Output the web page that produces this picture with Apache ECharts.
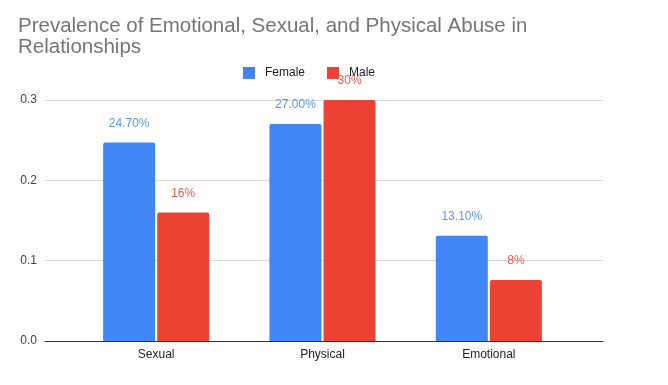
<!DOCTYPE html>
<html><head><meta charset="utf-8">
<script src="https://cdn.jsdelivr.net/npm/echarts@6/dist/echarts.min.js"></script>
<style>html,body{margin:0;padding:0;background:#fff}#c{width:668px;height:385px}</style>
</head><body><div id="c"></div>
<script>
const categories = ['Sexual', 'Physical', 'Emotional'];
const female = [0.247, 0.27, 0.131];
const male = [0.16, 0.30, 0.076];
const femaleLabels = ['24.70%', '27.00%', '13.10%'];
const maleLabels = ['16%', '30%', '8%'];
const yTicks = [0, 0.1, 0.2, 0.3];

const font = 'Arial, "Liberation Sans", sans-serif';
const chart = echarts.init(document.getElementById('c'), null, {renderer: 'canvas'});
chart.setOption({
  animation: false,
  title: {
    text: 'Prevalence of Emotional, Sexual, and Physical Abuse in\nRelationships',
    left: 13, top: 11,
    textStyle: {fontFamily: font, fontSize: 20.5, fontWeight: 'normal', color: '#757575', lineHeight: 21}
  },
  legend: {
    top: 62, left: 238, itemWidth: 12, itemHeight: 12, itemGap: 22,
    icon: 'rect',
    textStyle: {fontFamily: font, fontSize: 12, color: '#222', padding: [0, 0, 0, 5]},
    data: ['Female', 'Male']
  },
  grid: [
    {left: 73, right: 96, top: 100, bottom: 44},
    {left: 45, right: 65, top: 100, bottom: 44}
  ],
  xAxis: [
    {type: 'category', gridIndex: 0, data: categories,
     axisLine: {show: false}, axisTick: {show: false},
     axisLabel: {fontFamily: font, fontSize: 12, color: '#222', margin: 8}},
    {type: 'value', gridIndex: 1, min: 0, max: 1, show: true,
     axisLine: {show: true, onZero: false, lineStyle: {color: '#333', width: 1}},
     axisTick: {show: false}, axisLabel: {show: false}, splitLine: {show: false}}
  ],
  yAxis: [
    {type: 'value', gridIndex: 0, min: 0, max: 0.3, interval: 0.1, show: false},
    {type: 'value', gridIndex: 1, min: 0, max: 0.3, interval: 0.1,
     axisLine: {show: false}, axisTick: {show: false},
     axisLabel: {fontFamily: font, fontSize: 12, color: '#444', margin: 8,
       formatter: v => v.toFixed(1)},
     splitLine: {lineStyle: {color: '#d9d9d9'}}}
  ],
  series: [
    {name: 'Female', type: 'bar', xAxisIndex: 0, yAxisIndex: 0, data: female,
     barWidth: 52, barGap: '4%', itemStyle: {color: '#4285F4', borderRadius: [2,2,0,0]},
     label: {show: true, position: 'top', distance: 13, fontFamily: font, fontSize: 12, color: '#5b95f5',
       formatter: p => femaleLabels[p.dataIndex]}},
    {name: 'Male', type: 'bar', xAxisIndex: 0, yAxisIndex: 0, data: male,
     barWidth: 52, barGap: '4%', itemStyle: {color: '#EA4335', borderRadius: [2,2,0,0]},
     label: {show: true, position: 'top', distance: 13, fontFamily: font, fontSize: 12, color: '#ec5a4d',
       formatter: p => maleLabels[p.dataIndex]}}
  ]
});
</script></body></html>
